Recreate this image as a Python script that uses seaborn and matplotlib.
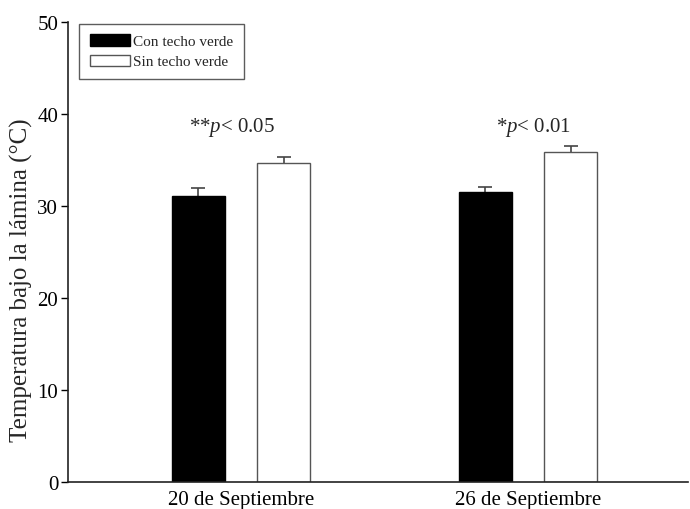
import matplotlib
matplotlib.use("Agg")
import matplotlib.pyplot as plt
import seaborn as sns
import pandas as pd

# Temperature under the roof sheet, mean and upper error per date
fechas = ["20 de Septiembre", "26 de Septiembre"]
grupos = ["Con techo verde", "Sin techo verde"]
con_techo = [31.1, 31.5]
sin_techo = [34.7, 35.9]
err_con = [0.9, 0.6]
err_sin = [0.6, 0.6]
signif = ["**$p$< 0.05", "*$p$< 0.01"]
yticks = [0, 10, 20, 30, 40, 50]

df = pd.DataFrame({
    "fecha": fechas * 2,
    "grupo": [grupos[0]] * len(fechas) + [grupos[1]] * len(fechas),
    "temp": con_techo + sin_techo,
    "err": err_con + err_sin,
})

sns.set_theme(style="ticks")
plt.rcParams["font.family"] = ["Liberation Serif", "DejaVu Serif"]
plt.rcParams["mathtext.fontset"] = "custom"
plt.rcParams["mathtext.it"] = "Liberation Serif:italic"
plt.rcParams["mathtext.rm"] = "Liberation Serif"

fig = plt.figure(figsize=(6.9, 5.1), dpi=100)
ax = fig.add_axes([0.0986, 0.053, 0.898, 0.902])

sns.barplot(data=df, x="fecha", y="temp", hue="grupo", order=fechas,
            hue_order=grupos, palette=["black", "white"], width=0.596,
            gap=0.38, errorbar=None, edgecolor="#555555", linewidth=1.0,
            ax=ax, zorder=2)

# black bars get black edges
for bar_container, ec in zip(ax.containers, ["black", "#555555"]):
    for p in bar_container:
        p.set_edgecolor(ec)

# error bars drawn behind the bars so only the upper half shows
for bar_container, g in zip(ax.containers, grupos):
    sub = df[df["grupo"] == g].set_index("fecha").loc[fechas]
    xs = [p.get_x() + p.get_width() / 2 for p in bar_container]
    ax.errorbar(xs, sub["temp"], yerr=sub["err"],
                fmt="none", ecolor="#444444", elinewidth=1.2,
                capsize=4.7, capthick=1.2, zorder=1)

for i, txt in enumerate(signif):
    ax.text(i + (-0.03 if i == 0 else 0.02), 38.6, txt, ha="center",
            va="center", fontsize=15)

ax.set_ylim(0, 50)
ax.set_xlim(-0.603, 1.557)
ax.set_yticks(yticks)
ax.set_ylabel("Temperatura bajo la lámina (°C)", fontsize=18)
ax.yaxis.set_label_coords(-0.057, 0.44)
ax.set_xlabel("")
ax.tick_params(axis="y", direction="out", length=5, width=1.0,
               labelsize=15, colors="black", pad=2)
ax.tick_params(axis="x", length=0, labelsize=15, colors="black", pad=6)
sns.despine(ax=ax)
for s in ["left", "bottom"]:
    ax.spines[s].set_color("#222222")
    ax.spines[s].set_linewidth(1.2)

leg = ax.legend(loc="upper left", bbox_to_anchor=(0.018, 0.996),
                borderaxespad=0, fontsize=11, frameon=True, fancybox=False,
                handlelength=2.6, handleheight=0.75, handletextpad=0.25,
                labelspacing=0.4, borderpad=0.7, title=None)
leg.get_frame().set_edgecolor("#333333")
leg.get_frame().set_linewidth(1.0)
for h in leg.legend_handles:
    h.set_edgecolor("#555555")
leg.legend_handles[0].set_edgecolor("black")

fig.savefig("out.png", dpi=100, facecolor="white")
